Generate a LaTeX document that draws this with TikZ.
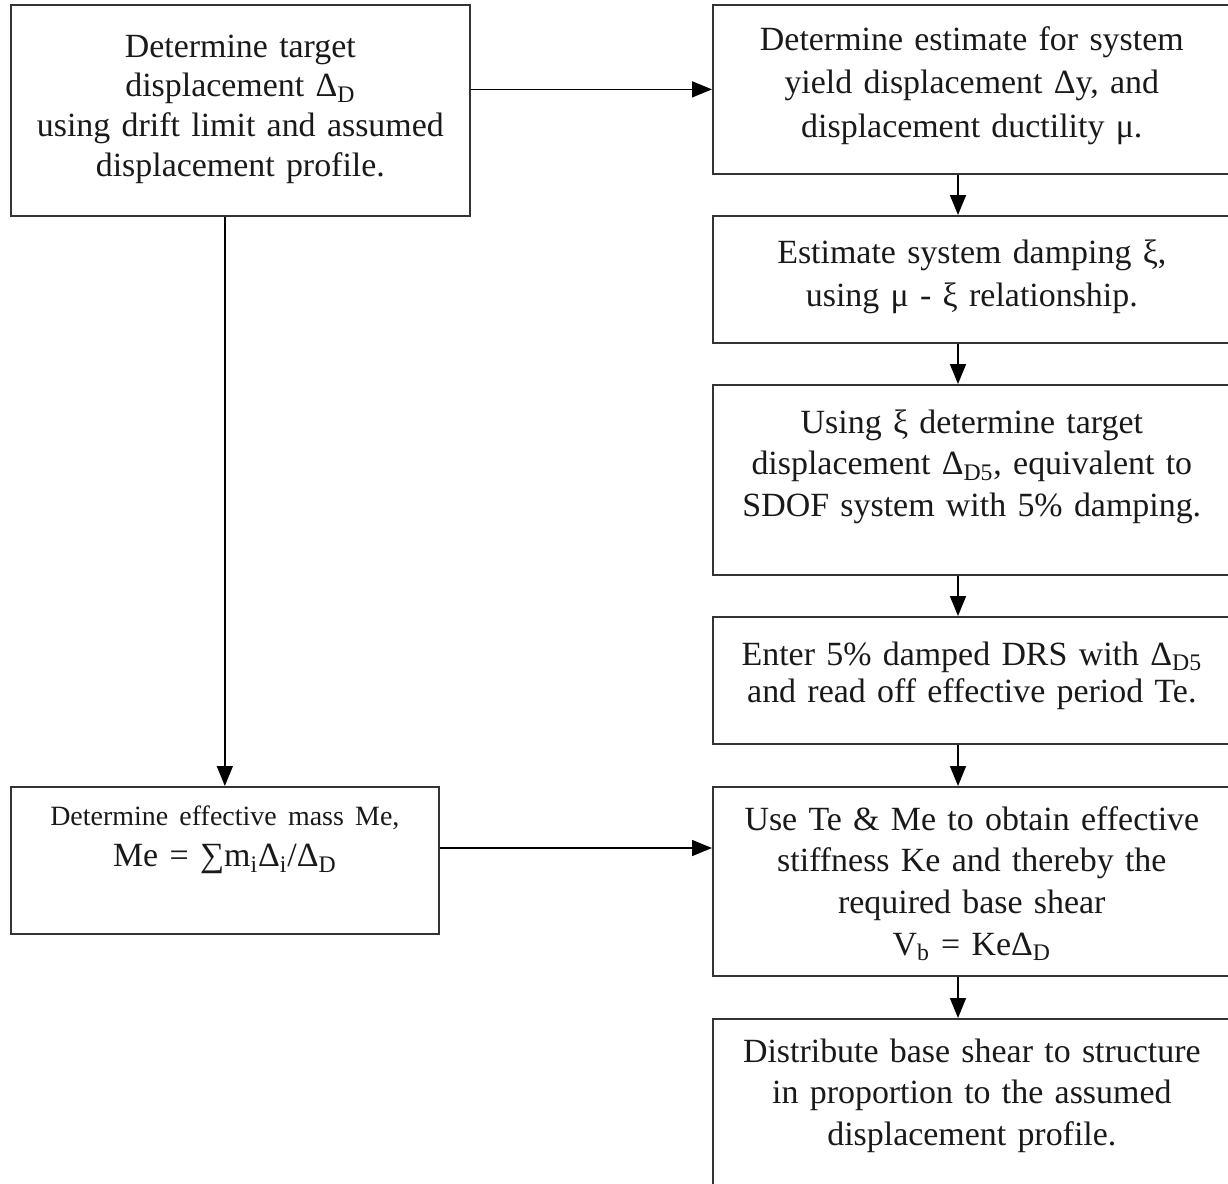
\documentclass[tikz,border=0pt]{standalone}
\usepackage{fontspec}
\setmainfont{Liberation Serif}
\usetikzlibrary{arrows.meta,calc}
\tikzset{
  box/.style={draw=black!80, line width=1pt, rectangle, anchor=north west, inner sep=0pt},
  txt/.style={anchor=base, align=center, text width=11cm, inner sep=0pt, text=black!90, font=\fontsize{19.3}{#1}\selectfont},
  txt/.default=23.8pt,
  arr/.style={draw, line width=0.9pt, -{Triangle[length=0.4cm,width=0.32cm]}}
}
\newcommand{\dsub}[1]{\textsubscript{#1}}
\begin{document}
\begin{tikzpicture}[x=0.02cm, y=-0.02cm]
\useasboundingbox (0,0) rectangle (1228,1184);
\clip (0,0) rectangle (1228,1184);
\fill[white] (0,0) rectangle (1228,1184);

\node[box, minimum width=9.18cm, minimum height=4.22cm] (1) at (10,4) {};
\node[box, minimum width=10.36cm, minimum height=3.38cm] (2) at (712,4) {};
\node[box, minimum width=10.36cm, minimum height=2.54cm] (3) at (712,215) {};
\node[box, minimum width=10.36cm, minimum height=3.8cm] (4) at (712,384) {};
\node[box, minimum width=10.36cm, minimum height=2.54cm] (5) at (712,616) {};
\node[box, minimum width=10.36cm, minimum height=3.78cm] (6) at (712,786) {};
\node[box, minimum width=10.36cm, minimum height=3.7cm] (7) at (712,1018) {};
\node[box, minimum width=8.56cm, minimum height=2.94cm] (8) at (10,786) {};

\node[txt=22.7pt] (t1) at ($(1.north)+(0,53)$) {Determine target\\ displacement Δ\dsub{D}\\ using drift limit and assumed\\ displacement profile.};
\node[txt=24.9pt] (t2) at ($(2.north)+(0,46)$) {Determine estimate for system\\ yield displacement Δy, and\\ displacement ductility μ.};
\node[txt=24.9pt] (t3) at ($(3.north)+(0,48)$) {Estimate system damping ξ,\\ using μ - ξ relationship.};
\node[txt] (t4) at ($(4.north)+(0,49)$) {Using ξ determine target\\ displacement Δ\dsub{D5}, equivalent to\\ SDOF system with 5\% damping.};
\node[txt=21.5pt] (t5) at ($(5.north)+(0,49)$) {Enter 5\% damped DRS with Δ\dsub{D5}\\ and read off effective period Te.};
\node[txt] (t6) at ($(6.north)+(0,44)$) {Use Te \& Me to obtain effective\\ stiffness Ke and thereby the\\ required base shear\\ V\dsub{b} = KeΔ\dsub{D}};
\node[txt] (t7) at ($(7.north)+(0,44)$) {Distribute base shear to structure\\ in proportion to the assumed\\ displacement profile.};
\node[txt] (t8) at ($(8.north)+(0,39)$) {{\fontsize{15.9}{19}\selectfont Determine effective mass Me,}\\ Me = ∑m\dsub{i}Δ\dsub{i}/Δ\dsub{D}};

\coordinate (cx) at (958,0);
\coordinate (cy) at (0,848);

\path[arr] (1.east |- 2.west) -- (2.west);
\path[arr] (1.south -| 8.north) -- (8.north);
\path[arr] (8.east |- cy) -- (6.west |- cy);
\path[arr] (2.south -| cx) -- (3.north -| cx);
\path[arr] (3.south -| cx) -- (4.north -| cx);
\path[arr] (4.south -| cx) -- (5.north -| cx);
\path[arr] (5.south -| cx) -- (6.north -| cx);
\path[arr] (6.south -| cx) -- (7.north -| cx);
\end{tikzpicture}
\end{document}
